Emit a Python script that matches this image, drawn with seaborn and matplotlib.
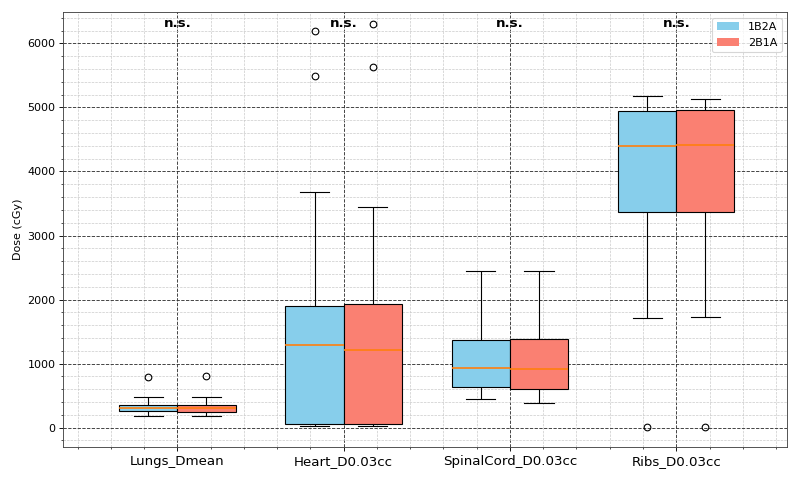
import matplotlib
matplotlib.use("Agg")
import matplotlib.pyplot as plt
from matplotlib.patches import Patch
from matplotlib.ticker import MultipleLocator, AutoMinorLocator
import seaborn as sns
import pandas as pd

metrics = ["Lungs_Dmean", "Heart_D0.03cc", "SpinalCord_D0.03cc", "Ribs_D0.03cc"]
groups = ["1B2A", "2B1A"]
colors = {"1B2A": "skyblue", "2B1A": "salmon"}

# representative per-patient dose samples (cGy)
lungs_1b2a = [176, 210, 240, 254, 270, 290, 307, 320, 340, 358, 400, 478, 790]
lungs_2b1a = [176, 205, 235, 252, 268, 285, 300, 318, 338, 360, 410, 478, 800]
heart_1b2a = [20, 30, 45, 60, 400, 900, 1293, 1500, 1700, 1901, 3678, 5496, 6187]
heart_2b1a = [20, 30, 45, 60, 400, 850, 1215, 1450, 1700, 1932, 3444, 5636, 6296]
cord_1b2a = [447, 520, 580, 634, 750, 850, 935, 1050, 1200, 1371, 1600, 2000, 2442]
cord_2b1a = [390, 470, 540, 603, 720, 830, 915, 1050, 1200, 1392, 1650, 2050, 2452]
ribs_1b2a = [15, 1714, 2500, 3371, 3800, 4100, 4390, 4600, 4800, 4940, 5050, 5100, 5174]
ribs_2b1a = [15, 1730, 2600, 3371, 3800, 4150, 4421, 4650, 4850, 4966, 5050, 5100, 5132]
sig_labels = ["n.s.", "n.s.", "n.s.", "n.s."]

samples = {
    ("Lungs_Dmean", "1B2A"): lungs_1b2a, ("Lungs_Dmean", "2B1A"): lungs_2b1a,
    ("Heart_D0.03cc", "1B2A"): heart_1b2a, ("Heart_D0.03cc", "2B1A"): heart_2b1a,
    ("SpinalCord_D0.03cc", "1B2A"): cord_1b2a, ("SpinalCord_D0.03cc", "2B1A"): cord_2b1a,
    ("Ribs_D0.03cc", "1B2A"): ribs_1b2a, ("Ribs_D0.03cc", "2B1A"): ribs_2b1a,
}
rows = []
for (m, g), vals in samples.items():
    for v in vals:
        rows.append({"Metric": m, "Group": g, "Dose": v})
df = pd.DataFrame(rows)

fig = plt.figure(figsize=(10, 6), dpi=80)
ax = fig.add_axes([0.079, 0.069, 0.905, 0.906])

sns.boxplot(data=df, x="Metric", y="Dose", hue="Group", order=metrics, hue_order=groups,
            palette=colors, width=0.7, gap=0, saturation=1, linecolor="black", linewidth=1,
            medianprops=dict(color="#ff7f0e", linewidth=1.5),
            flierprops=dict(marker="o", markerfacecolor="none", markeredgecolor="black",
                            markersize=6, markeredgewidth=1),
            legend=False, ax=ax, zorder=3)

ax.set_xlim(-0.686, 3.667)
ax.set_ylim(-300, 6490)
ax.yaxis.set_major_locator(MultipleLocator(1000))
ax.yaxis.set_minor_locator(AutoMinorLocator(5))
ax.xaxis.set_minor_locator(MultipleLocator(0.2))
ax.grid(which="major", linestyle="--", color="#333333", linewidth=0.8, zorder=0)
ax.grid(which="minor", linestyle="--", color="#c8c8c8", linewidth=0.6, zorder=0)
ax.set_axisbelow(True)
for s in ax.spines.values():
    s.set_color("#444444")
ax.set_xlabel("")
ax.set_ylabel("Dose (cGy)", fontsize=10)
ax.tick_params(axis="x", labelsize=12)
ax.tick_params(axis="y", labelsize=10)

for i, lab in enumerate(sig_labels):
    ax.text(i, 0.988, lab, transform=ax.get_xaxis_transform(), ha="center", va="top",
            fontsize=12, fontweight="bold")

handles = [Patch(facecolor=colors[g], label=g) for g in groups]
ax.legend(handles=handles, loc="upper right", fontsize=10)

fig.savefig("out.png", dpi=80)
